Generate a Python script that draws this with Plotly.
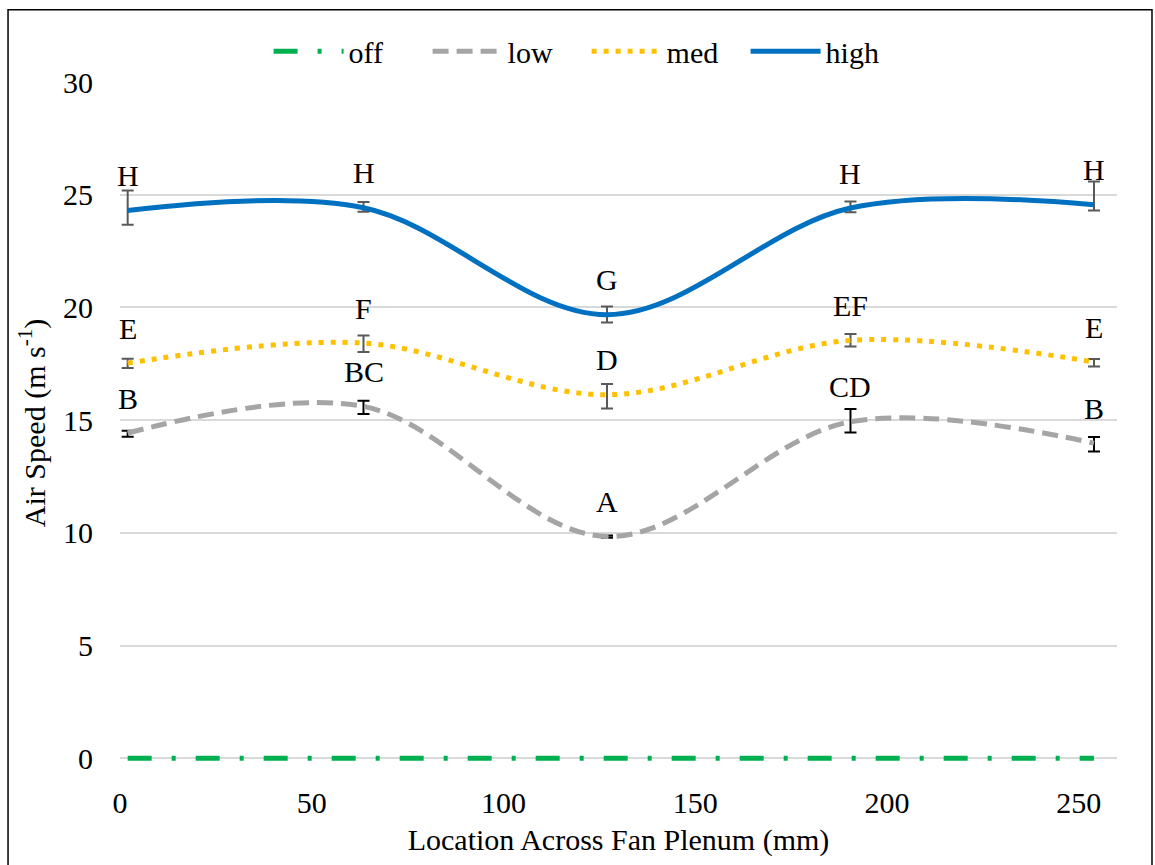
import plotly.graph_objects as go

# Measurement locations across the fan plenum (mm)
location_mm = [2, 63.5, 127, 190.5, 254]

# Mean air speed (m/s) per fan setting
speed_off = [0, 0, 0, 0, 0]
speed_low = [14.43, 15.61, 9.84, 14.93, 13.98]
speed_med = [17.53, 18.42, 16.13, 18.54, 17.58]
speed_high = [24.30, 24.42, 19.68, 24.41, 24.56]

# Error bar extents (m/s)
low_plus = [0.10, 0.25, 0.05, 0.57, 0.27]
low_minus = [0.16, 0.34, 0.05, 0.48, 0.37]
med_plus = [0.19, 0.34, 0.48, 0.28, 0.13]
med_minus = [0.22, 0.40, 0.61, 0.27, 0.20]
high_plus = [0.89, 0.26, 0.36, 0.29, 1.03]
high_minus = [0.63, 0.18, 0.35, 0.19, 0.26]

# Mean separation letters
low_letters = ["B", "BC", "A", "CD", "B"]
med_letters = ["E", "F", "D", "EF", "E"]
high_letters = ["H", "H", "G", "H", "H"]

FONT = "Times New Roman, Liberation Serif, DejaVu Serif, serif"
FS = 30

fig = go.Figure()

fig.add_trace(go.Scatter(
    x=location_mm, y=speed_off, name="off", mode="lines",
    line=dict(color="#00B050", width=5, dash="24px,20px,4px,20px"),
))
fig.add_trace(go.Scatter(
    x=location_mm, y=speed_low, name="low", mode="lines",
    line=dict(color="#A5A5A5", width=5, dash="16px,8px", shape="spline", smoothing=1),
    error_y=dict(type="data", symmetric=False, array=low_plus, arrayminus=low_minus,
                 color="black", thickness=2, width=6),
))
fig.add_trace(go.Scatter(
    x=location_mm, y=speed_med, name="med", mode="lines",
    line=dict(color="#FFC000", width=5, dash="5px,7px", shape="spline", smoothing=1),
    error_y=dict(type="data", symmetric=False, array=med_plus, arrayminus=med_minus,
                 color="#595959", thickness=2, width=6),
))
fig.add_trace(go.Scatter(
    x=location_mm, y=speed_high, name="high", mode="lines",
    line=dict(color="#0070C0", width=5, shape="spline", smoothing=1),
    error_y=dict(type="data", symmetric=False, array=high_plus, arrayminus=high_minus,
                 color="#595959", thickness=2, width=6),
))

# Letter labels above each mean
annotations = []
for ys, letters in ((speed_low, low_letters), (speed_med, med_letters), (speed_high, high_letters)):
    for xv, yv, t in zip(location_mm, ys, letters):
        annotations.append(dict(x=xv, y=yv, text=t, showarrow=False, yshift=35,
                                font=dict(family=FONT, size=FS, color="black")))

# y range dips slightly below zero so the zero-level line is not clipped
Y_LOW = -0.25
fig.update_layout(
    width=1155, height=865,
    margin=dict(l=120, r=38, t=82, b=101),
    paper_bgcolor="white", plot_bgcolor="white",
    font=dict(family=FONT, size=FS, color="black"),
    showlegend=True,
    legend=dict(orientation="h", x=0.468, xanchor="center", y=1.045, yanchor="middle",
                font=dict(family=FONT, size=FS), itemwidth=70, entrywidth=74,
                bgcolor="rgba(0,0,0,0)"),
    annotations=annotations,
    shapes=[dict(type="rect", xref="paper", yref="paper",
                 x0=-0.1123, x1=1.0351, y0=-0.17, y1=1.106,
                 line=dict(color="black", width=1.5), fillcolor="rgba(0,0,0,0)", layer="below")],
)

fig.update_xaxes(
    range=[0, 260], tickvals=[0, 50, 100, 150, 200, 250],
    showgrid=False, zeroline=False, showline=False, ticks="",
    ticklabelstandoff=18,
    title=dict(text="Location Across Fan Plenum (mm)", standoff=10,
               font=dict(family=FONT, size=FS)),
    tickfont=dict(family=FONT, size=FS), automargin=False,
)
fig.update_yaxes(
    range=[Y_LOW, 30], tickvals=[0, 5, 10, 15, 20, 25, 30], showgrid=True,
    gridcolor="#D9D9D9", gridwidth=1.5,
    zeroline=False, showline=False, ticks="",
    ticklabelstandoff=26,
    title=dict(text="Air Speed (m s<sup>-1</sup>)", standoff=8,
               font=dict(family=FONT, size=FS)),
    tickfont=dict(family=FONT, size=FS), automargin=False,
)

fig.write_html("out.html")
